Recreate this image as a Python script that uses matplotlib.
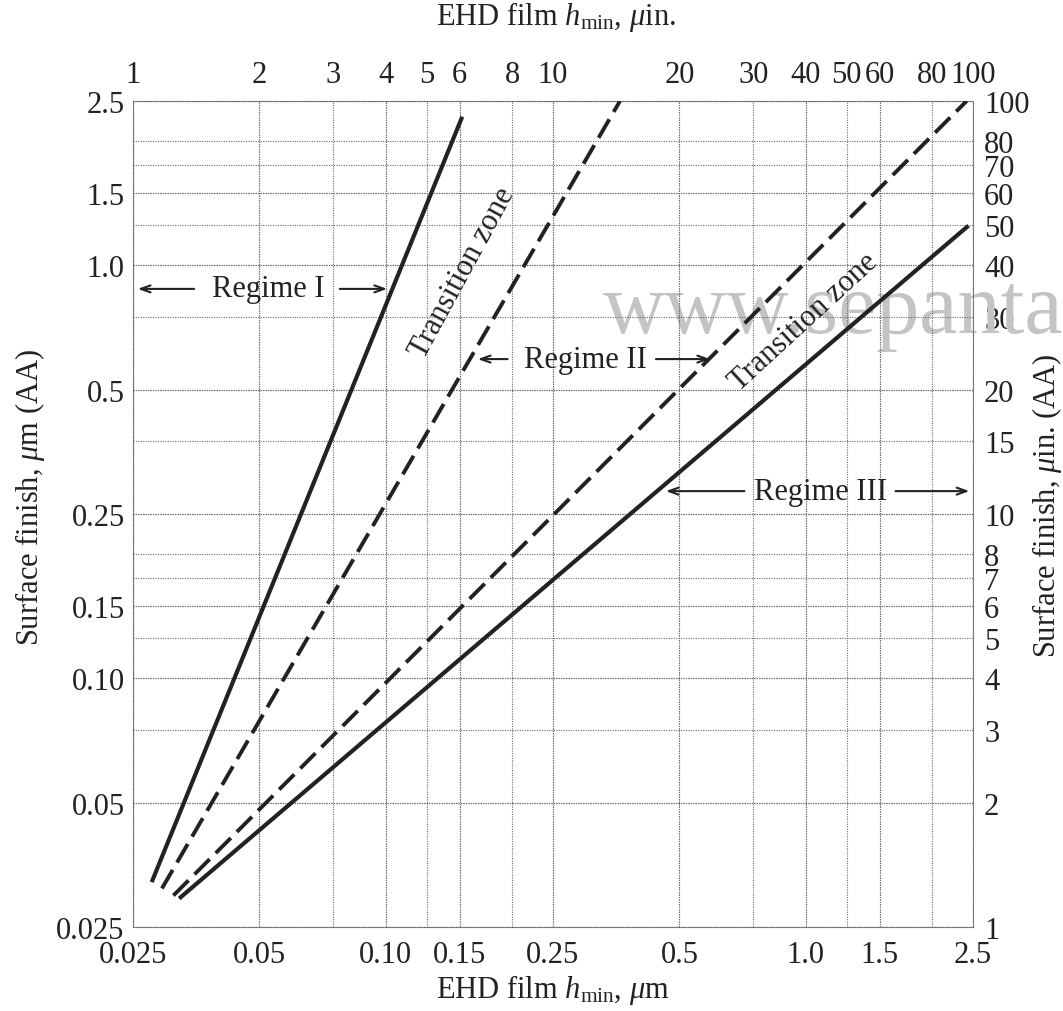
import matplotlib
matplotlib.use("Agg")
import matplotlib.pyplot as plt

UIN_PER_UM = 40.0  # chart scales: 1 µin ~ 0.025 µm

# axis ticks
um_ticks = [0.025, 0.05, 0.10, 0.15, 0.25, 0.5, 1.0, 1.5, 2.5]
um_labels = ["0.025", "0.05", "0.10", "0.15", "0.25", "0.5", "1.0", "1.5", "2.5"]
top_uin_ticks = [1, 2, 3, 4, 5, 6, 8, 10, 20, 30, 40, 50, 60, 80, 100]
right_uin_ticks = [1, 2, 3, 4, 5, 6, 7, 8, 10, 15, 20, 30, 40, 50, 60, 70, 80, 100]

# boundary lines (micrometres)
regime1_x = [0.0277, 0.152]
regime1_y = [0.0321, 2.29]
trans1_x = [0.0293, 0.361]
trans1_y = [0.0310, 2.5]
trans2_x = [0.0312, 2.415]
trans2_y = [0.0298, 2.5]
regime3_x = [0.0322, 2.44]
regime3_y = [0.0293, 1.248]


def um_to_uin(v):
    return v * UIN_PER_UM


def uin_to_um(v):
    return v / UIN_PER_UM


plt.rcParams["font.family"] = ["Liberation Serif", "DejaVu Serif"]
plt.rcParams["mathtext.fontset"] = "custom"
plt.rcParams["mathtext.rm"] = "Liberation Serif"
plt.rcParams["mathtext.it"] = "Liberation Serif:italic"
FS = 22
INK = "#222222"

fig = plt.figure(figsize=(10.63, 10.12), dpi=100)
ax = fig.add_axes([0.1251, 0.0830, 0.7902, 0.8162])
ax.set_xscale("log")
ax.set_yscale("log")
ax.set_xlim(0.025, 2.5)
ax.set_ylim(0.025, 2.5)

# grid: µm values and µin values
grid_kw = dict(color="#6a6a6a", lw=0.8, ls=(0, (1, 1.2)), zorder=1)
for v in um_ticks + [uin_to_um(t) for t in top_uin_ticks]:
    ax.axvline(v, **grid_kw)
for v in um_ticks + [uin_to_um(t) for t in right_uin_ticks]:
    ax.axhline(v, **grid_kw)

for s in ax.spines.values():
    s.set_linestyle((0, (1, 1.2)))
    s.set_color("#6a6a6a")
    s.set_linewidth(0.8)

ax.plot(regime1_x, regime1_y, color=INK, lw=3, solid_capstyle="butt", zorder=3)
ax.plot(trans1_x, trans1_y, color=INK, lw=2.8, dashes=(5.5, 2.2),
        dash_capstyle="butt", zorder=3)
ax.plot(trans2_x, trans2_y, color=INK, lw=2.8, dashes=(5.5, 2.2),
        dash_capstyle="butt", zorder=3)
ax.plot(regime3_x, regime3_y, color=INK, lw=3, solid_capstyle="butt", zorder=3)

ax.set_xticks(um_ticks)
ax.set_xticklabels(um_labels)
ax.set_yticks(um_ticks)
ax.set_yticklabels(um_labels)
ax.minorticks_off()
ax.tick_params(length=0, labelsize=FS, colors=INK)
ax.tick_params(axis="x", pad=9)
ax.tick_params(axis="y", pad=6)

top = ax.secondary_xaxis("top", functions=(um_to_uin, uin_to_um))
top.set_xticks(top_uin_ticks)
top.set_xticklabels([str(t) for t in top_uin_ticks])
top.minorticks_off()
top.tick_params(length=0, labelsize=FS, pad=9, colors=INK)
top.spines["top"].set_visible(False)

right = ax.secondary_yaxis("right", functions=(um_to_uin, uin_to_um))
right.set_yticks(right_uin_ticks)
right.set_yticklabels([str(t) for t in right_uin_ticks])
right.minorticks_off()
right.tick_params(length=0, labelsize=FS, pad=8, colors=INK)
right.spines["right"].set_visible(False)

# regime labels with arrows
arrow_kw = dict(arrowstyle="->,head_length=0.7,head_width=0.25", lw=1.5, color=INK)


def regime(label, y, x_text, left, right_):
    ax.text(x_text, y, label, ha="center", va="center", fontsize=FS, color=INK, zorder=4)
    ax.annotate("", xy=(left[1], y), xytext=(left[0], y), arrowprops=arrow_kw, zorder=4)
    ax.annotate("", xy=(right_[1], y), xytext=(right_[0], y), arrowprops=arrow_kw, zorder=4)


regime("Regime I", 0.877, 0.0525, (0.0355, 0.02527), (0.0765, 0.1023))
regime("Regime II", 0.593, 0.298, (0.198, 0.163), (0.433, 0.601))
regime("Regime III", 0.284, 1.087, (0.725, 0.457), (1.61, 2.49))

ax.text(0.152, 0.964, "Transition zone", rotation=61.5, rotation_mode="anchor",
        ha="center", va="center", fontsize=FS, color=INK, zorder=4)
ax.text(0.99, 0.733, "Transition zone", rotation=42.5, rotation_mode="anchor",
        ha="center", va="center", fontsize=FS, color=INK, zorder=4)

# axis titles
fig.text(0.520, 0.0217, r"EHD film $h_{\mathrm{min}}$, $\mu$m", ha="center", va="center",
         fontsize=FS, color=INK)
fig.text(0.523, 0.983, r"EHD film $h_{\mathrm{min}}$, $\mu$in.", ha="center", va="center",
         fontsize=FS, color=INK)
fig.text(0.028, 0.508, r"Surface finish, $\mu$m (AA)", rotation=90, ha="center", va="center",
         fontsize=FS, color=INK)
fig.text(0.985, 0.50, r"Surface finish, $\mu$in. (AA)", rotation=90, ha="center", va="center",
         fontsize=FS, color=INK)

# watermark, behind the chart marks
ax.text(0.567, 0.671, "www.sepantak", transform=fig.transFigure, ha="left", va="baseline",
        fontsize=62, color="#c4c4c4", zorder=0.5, clip_on=False)

fig.savefig("out.png", dpi=100)
